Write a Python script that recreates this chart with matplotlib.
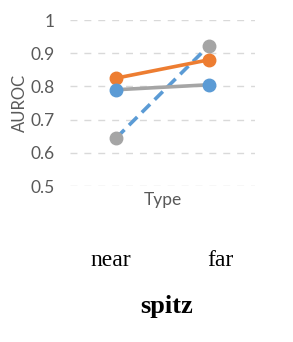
import matplotlib
matplotlib.use("Agg")
from matplotlib import pyplot as plt

categories = ["near", "far"]
orange_vals = [0.825, 0.880]
gray_line_vals = [0.790, 0.805]
blue_dash_vals = [0.645, 0.922]
yticks = [0.5, 0.6, 0.7, 0.8, 0.9, 1.0]
ytick_labels = ["0.5", "0.6", "0.7", "0.8", "0.9", "1"]
title = "spitz"

orange = "#ED7D31"
gray = "#A5A5A5"
blue = "#5B9BD5"

fig = plt.figure(figsize=(2.93, 3.42), dpi=100)
ax = fig.add_axes([0.239, 0.456, 0.631, 0.4855])

x = list(range(len(categories)))

# grid first so the lines sit on top
for v in yticks:
    ax.axhline(v, color="#D9D9D9", lw=1.0, ls=(0, (5, 5)), zorder=0)

ax.plot(x, orange_vals, color=orange, lw=2.6, marker="o", ms=9,
        mfc=orange, mec=orange, zorder=3)
ax.plot(x, gray_line_vals, color=gray, lw=2.6, marker="o", ms=9,
        mfc=blue, mec=blue, zorder=3)
ax.plot(x, blue_dash_vals, color=blue, lw=2.6, ls=(0, (3.2, 1.8)), marker="o",
        ms=9, mfc=gray, mec=gray, zorder=2)

ax.set_xlim(-0.5, 1.5)
ax.set_ylim(0.5, 1.0)
ax.set_yticks(yticks)
ax.set_yticklabels(ytick_labels, fontsize=12.5, color="#595959", family="Lato")
ax.tick_params(axis="y", length=0, pad=11)
ax.set_xticks([])
for s in ax.spines.values():
    s.set_visible(False)
ax.set_ylabel("AUROC", fontsize=12, color="#595959", family="Lato", labelpad=2)
ax.set_xlabel("Type", fontsize=12.5, color="#595959", family="Lato", labelpad=4)
ax.patch.set_alpha(0)

# category labels and title underneath, in serif
label_x = [111 / 293, 220 / 293]
for lx, name in zip(label_x, categories):
    fig.text(lx, 1 - 260 / 342, name, ha="center", va="center",
             fontsize=17, family="Liberation Serif")
fig.text(167 / 293, 1 - 307 / 342, title, ha="center", va="center",
         fontsize=19, fontweight="bold", family="Liberation Serif")

plt.savefig("out.png", dpi=100)
